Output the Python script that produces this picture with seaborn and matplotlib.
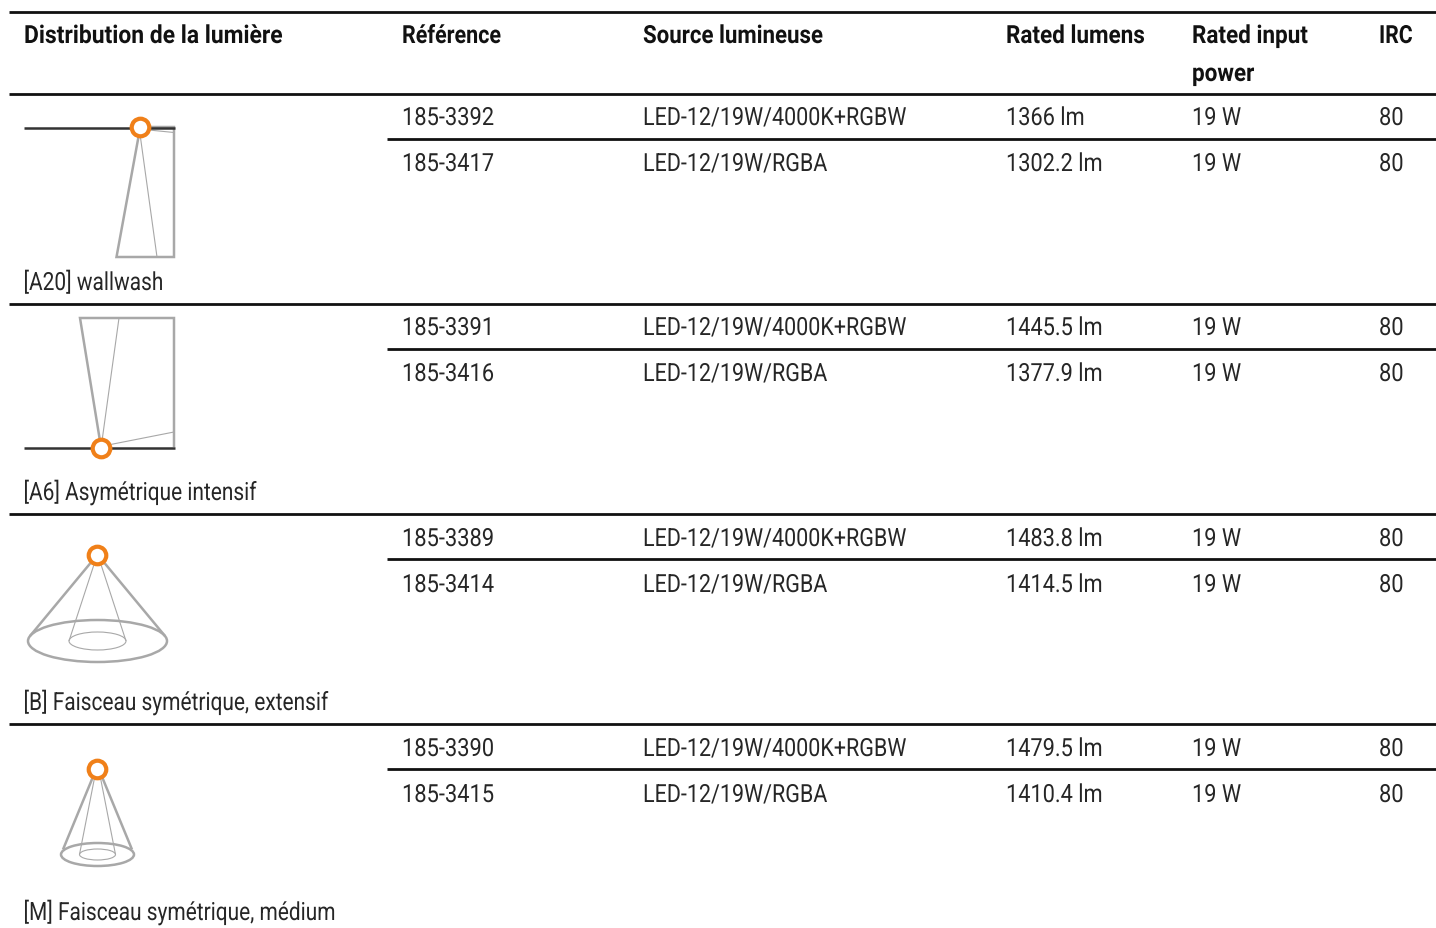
import numpy as np
import pandas as pd
import seaborn as sns
import matplotlib
matplotlib.use("Agg")
from matplotlib import pyplot as plt
from matplotlib import patheffects as pe
from matplotlib.patches import Ellipse
from matplotlib.transforms import Affine2D

W, H = 1436, 929

headers = ["Distribution de la lumière", "Référence", "Source lumineuse", "Rated lumens", "Rated input\npower", "IRC"]
distributions = ["[A20] wallwash", "[A6] Asymétrique intensif", "[B] Faisceau symétrique, extensif", "[M] Faisceau symétrique, médium"]
references = ["185-3392", "185-3417", "185-3391", "185-3416", "185-3389", "185-3414", "185-3390", "185-3415"]
sources = ["LED-12/19W/4000K+RGBW", "LED-12/19W/RGBA"] * 4
lumens = [1366, 1302.2, 1445.5, 1377.9, 1483.8, 1414.5, 1479.5, 1410.4]
power = [19] * 8
irc = [80] * 8


class Squeeze(pe.AbstractPathEffect):
    # no condensed font installed, so narrow the glyphs when they are drawn
    def __init__(self, sx):
        super().__init__()
        self.sx = sx

    def draw_path(self, renderer, gc, tpath, affine, rgbFace=None):
        renderer.draw_path(gc, tpath, Affine2D().scale(self.sx, 1) + affine, rgbFace)


sns.set_theme(style="white")
plt.rcParams["font.family"] = ["Roboto", "DejaVu Sans"]

df = pd.DataFrame({"ref": references, "source": sources, "lumens": lumens, "power": power, "irc": irc})
df["group"] = np.repeat(range(4), 2)
df["sub"] = [0, 1] * 4

fig = plt.figure(figsize=(W / 100, H / 100), dpi=100)
ax = fig.add_axes([0, 0, 1, 1])

col_x = [24, 402, 643, 1006, 1192, 1379]
head_sx = [0.915, 0.86, 0.89, 0.90, 0.90, 0.85]
body_sx = [0.875, 0.86, 0.87, 0.87, 0.875]
fs = 18
ink = "#262626"
grey = "#a8a8a8"
orange = "#f08019"

# rules
for y in [12.5, 94.5, 304.5, 514.5, 724.5]:
    ax.plot([9, W], [y, y], color="#111111", lw=2.0, solid_capstyle="butt")
for y in [139.5, 349.5, 559.5, 769.5]:
    ax.plot([387, W], [y, y], color="#111111", lw=2.0, solid_capstyle="butt")

# header
for x, h, sx in zip(col_x, headers, head_sx):
    for i, part in enumerate(h.split("\n")):
        ax.text(x, 44 + i * 38, part, fontsize=fs, fontweight="bold", color="#111111",
                va="baseline", ha="left", path_effects=[Squeeze(sx)])

# body
row0 = [126, 336, 547, 757]
for _, r in df.iterrows():
    y = row0[r["group"]] + r["sub"] * 46
    vals = [r["ref"], r["source"], f"{r['lumens']:g} lm", f"{r['power']} W", str(r["irc"])]
    for x, v, sx in zip(col_x[1:], vals, body_sx):
        ax.text(x, y, v, fontsize=fs, color=ink, va="baseline", ha="left", path_effects=[Squeeze(sx)])

for y, d in zip([291, 501, 711, 921], distributions):
    ax.text(23.5, y, d, fontsize=fs, color=ink, va="baseline", ha="left", path_effects=[Squeeze(0.835)])


# icons
def line(xs, ys, lw=1.8, c=grey):
    ax.plot(xs, ys, color=c, lw=lw, solid_joinstyle="miter", solid_capstyle="butt")


# A20
line([139, 116.5, 174, 174, 150], [135, 258, 258, 128, 128])
line([140, 157], [135, 258], lw=0.8)
line([149, 174], [131, 133.5], lw=0.8)
line([24, 175], [128.5, 128.5], c="#333333")
# A6
line([100, 80, 174, 174], [442, 319, 319, 448])
line([102, 119], [442, 319], lw=0.8)
line([108, 174], [446, 433], lw=0.8)
line([24, 175], [448.5, 448.5], c="#333333")


def cone(cx, top, ey, rx, ry, rx2, ry2, spread):
    ax.add_patch(Ellipse((cx, ey), 2 * rx, 2 * ry, fill=False, ec=grey, lw=1.8))
    ax.add_patch(Ellipse((cx, ey), 2 * rx2, 2 * ry2, fill=False, ec=grey, lw=0.8))
    line([cx - spread, cx - rx + 2], [top, ey - 5])
    line([cx + spread, cx + rx - 2], [top, ey - 5])
    line([cx - 3, cx - rx2], [top, ey], lw=0.8)
    line([cx + 3, cx + rx2], [top, ey], lw=0.8)


cone(97.5, 564, 642, 69.5, 21, 28.5, 9, 7)
cone(97.5, 779, 855.5, 36.5, 11.5, 18, 5.5, 5)

rings = pd.DataFrame({"x": [140, 100.5, 97, 97], "y": [127.5, 448.5, 556, 770]})
sns.scatterplot(data=rings, x="x", y="y", s=160, facecolor="white", edgecolor=orange, linewidth=3.0,
                ax=ax, zorder=5, legend=False)
ax.set_xlim(0, W)
ax.set_ylim(H, 0)
ax.axis("off")

fig.savefig("out.png", dpi=100)
